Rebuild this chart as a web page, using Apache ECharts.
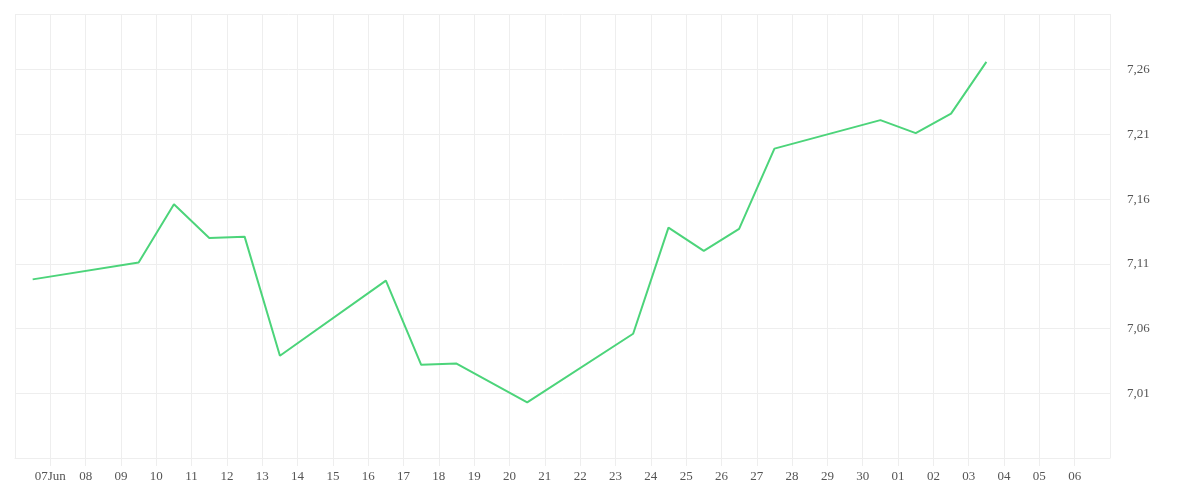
<!DOCTYPE html>
<html><head><meta charset="utf-8">
<script src="https://cdn.jsdelivr.net/npm/echarts@6/dist/echarts.min.js"></script>
<style>html,body{margin:0;padding:0;background:#fff}#c{width:1200px;height:500px}</style>
</head><body><div id="c"></div>
<script>
const dates = ["2024-06-06T12","2024-06-09T12","2024-06-10T12","2024-06-11T12","2024-06-12T12","2024-06-13T12","2024-06-16T12","2024-06-17T12","2024-06-18T12","2024-06-20T12","2024-06-23T12","2024-06-24T12","2024-06-25T12","2024-06-26T12","2024-06-27T12","2024-06-30T12","2024-07-01T12","2024-07-02T12","2024-07-03T12"];
const values = [7.095,7.108,7.153,7.127,7.128,7.036,7.094,7.029,7.030,7.000,7.053,7.135,7.117,7.134,7.196,7.218,7.208,7.223,7.263];
const dayLabels = ["06","07Jun","08","09","10","11","12","13","14","15","16","17","18","19","20","21","22","23","24","25","26","27","28","29","30","01","02","03","04","05","06",""];
const start = Date.UTC(2024,5,6);
function dayOffset(s){const [d,h]=s.split("T");const [y,m,dd]=d.split("-").map(Number);return (Date.UTC(y,m-1,dd,Number(h))-start)/86400000;}
const data = dates.map((d,i)=>[dayOffset(d),values[i]]);
const font = "Liberation Serif";
const chart = echarts.init(document.getElementById('c'));
chart.setOption({
  animation:false,
  grid:{left:15,right:90,top:14,bottom:42},
  xAxis:{type:'value',min:0,max:31,interval:1,
    axisLine:{lineStyle:{color:'#eee'}},
    axisTick:{show:true,length:8,lineStyle:{color:'#eee'}},
    splitLine:{lineStyle:{color:'#eee'}},
    axisLabel:{color:'#555',fontFamily:font,fontSize:13,margin:12,showMinLabel:false,showMaxLabel:false,
      formatter:v=>dayLabels[Math.round(v)]}},
  yAxis:{type:'value',position:'right',min:6.957,max:7.3,interval:0.05,
    axisLine:{show:false},axisTick:{show:false},
    splitLine:{lineStyle:{color:'#eee'}},
    axisLabel:{color:'#555',fontFamily:font,fontSize:13,margin:17,showMinLabel:false,showMaxLabel:false,
      formatter:v=>v.toFixed(2).replace('.',',')}},
  series:[{type:'line',data:data,showSymbol:false,lineStyle:{color:'#4cd47a',width:2},itemStyle:{color:'#4cd47a'}}]
});
</script></body></html>
